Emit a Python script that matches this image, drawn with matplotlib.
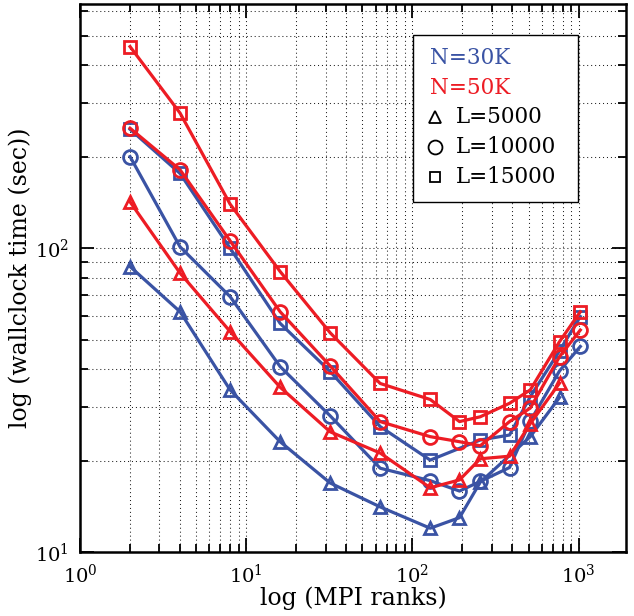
import matplotlib
matplotlib.use("Agg")
import matplotlib.pyplot as plt
from matplotlib.ticker import LogLocator, NullFormatter, LogFormatterMathtext
from matplotlib.patches import Rectangle

plt.rcParams['font.family'] = ['DejaVu Serif']
plt.rcParams['mathtext.fontset'] = 'dejavuserif'

# ---- data ----
x_all = [2, 4, 8, 16, 32, 64, 128, 192, 256, 384, 512, 768, 1024]

x_b_tri = [2, 4, 8, 16, 32, 64, 128, 192, 256, 512, 768]
y_b_tri = [87, 61.8, 34.2, 23.1, 16.9, 14.1, 12.0, 13.0, 17.0, 24.0, 32.3]

x_b_cir = x_all
y_b_cir = [200, 101, 69.3, 40.8, 28.1, 18.9, 17.2, 15.9, 17.1, 19.0, 27.0, 39.5, 47.5]

x_b_sq = [2, 4, 8, 16, 32, 64, 128, 256, 384, 512, 768, 1024]
y_b_sq = [246, 176, 100, 56.6, 39.3, 25.9, 20.1, 23.4, 24.3, 32.5, 46, 59.6]

x_r_tri = [2, 4, 8, 16, 32, 64, 128, 192, 256, 384, 512, 768]
y_r_tri = [142, 82.8, 53.2, 34.9, 24.9, 21.2, 16.3, 17.3, 20.3, 20.7, 26.5, 36.0]

x_r_cir = x_all
y_r_cir = [248, 181, 105.7, 61.8, 41.0, 26.9, 24.0, 23.1, 22.4, 26.9, 29.8, 44.0, 53.8]

x_r_sq = x_all
y_r_sq = [460, 278, 139.6, 83.8, 52.7, 35.9, 31.8, 26.9, 27.9, 30.9, 34.2, 49.3, 61.8]

legend_n = ['N=30K', 'N=50K']
legend_l = ['L=5000', 'L=10000', 'L=15000']

BLUE = '#3A53A4'
RED = '#ED1C24'

fig = plt.figure(figsize=(6.34, 6.16), dpi=100)
ax = fig.add_axes([80/634, 1-552.3/616, 545.7/634, 548.3/616])
ax.set_xscale('log')
ax.set_yscale('log')
ax.set_xlim(1, 1920)
ax.set_ylim(10, 635)

common = dict(lw=2.3, mew=2.0, mfc='none')
ax.plot(x_b_tri, y_b_tri, '-^', color=BLUE, ms=9, **common, zorder=3)
ax.plot(x_b_cir, y_b_cir, '-o', color=BLUE, ms=10, **common, zorder=3)
ax.plot(x_b_sq, y_b_sq, '-s', color=BLUE, ms=8, **common, zorder=3)
ax.plot(x_r_tri, y_r_tri, '-^', color=RED, ms=9, **common, zorder=4)
ax.plot(x_r_cir, y_r_cir, '-o', color=RED, ms=10, **common, zorder=4)
ax.plot(x_r_sq, y_r_sq, '-s', color=RED, ms=8, **common, zorder=4)

for axis in (ax.xaxis, ax.yaxis):
    axis.set_major_locator(LogLocator(base=10))
    axis.set_minor_locator(LogLocator(base=10, subs=range(2, 10)))
    axis.set_minor_formatter(NullFormatter())
    axis.set_major_formatter(LogFormatterMathtext())

ax.grid(True, which='both', linestyle=(0, (1, 2.8)), color='#222222', lw=0.75)
ax.tick_params(which='both', direction='in', top=True, right=True, width=1.3)
ax.tick_params(which='major', length=10, labelsize=14, pad=8)
ax.tick_params(which='minor', length=5.5)
for s in ax.spines.values():
    s.set_linewidth(1.8)

fig.text(20/634, 1-278/616, 'log (wallclock time (sec))', rotation=90,
         ha='center', va='center', fontsize=17)
fig.text(353/634, 1-598/616, 'log (MPI ranks)', ha='center', va='center', fontsize=17)

# legend
ax.add_patch(Rectangle((0.6097, 0.639), 0.9132-0.6097, 0.9435-0.639,
                       transform=ax.transAxes, facecolor='white',
                       edgecolor='black', lw=1.0, zorder=5))
rows = [0.901, 0.846, 0.793, 0.739, 0.685]
ax.text(0.641, rows[0], legend_n[0], color=BLUE, transform=ax.transAxes,
        fontsize=15.5, va='center', ha='left', zorder=6)
ax.text(0.641, rows[1], legend_n[1], color=RED, transform=ax.transAxes,
        fontsize=15.5, va='center', ha='left', zorder=6)
for mk, ms, lab, yy in zip(['^', 'o', 's'], [8.5, 10, 7.5], legend_l, rows[2:]):
    ax.plot([0.6505], [yy], marker=mk, ms=ms, mfc='none', mec='black', mew=1.3,
            transform=ax.transAxes, zorder=6, clip_on=False)
    ax.text(0.689, yy, lab, color='black', transform=ax.transAxes,
            fontsize=15.5, va='center', ha='left', zorder=6)

fig.savefig('out.png', dpi=100)
